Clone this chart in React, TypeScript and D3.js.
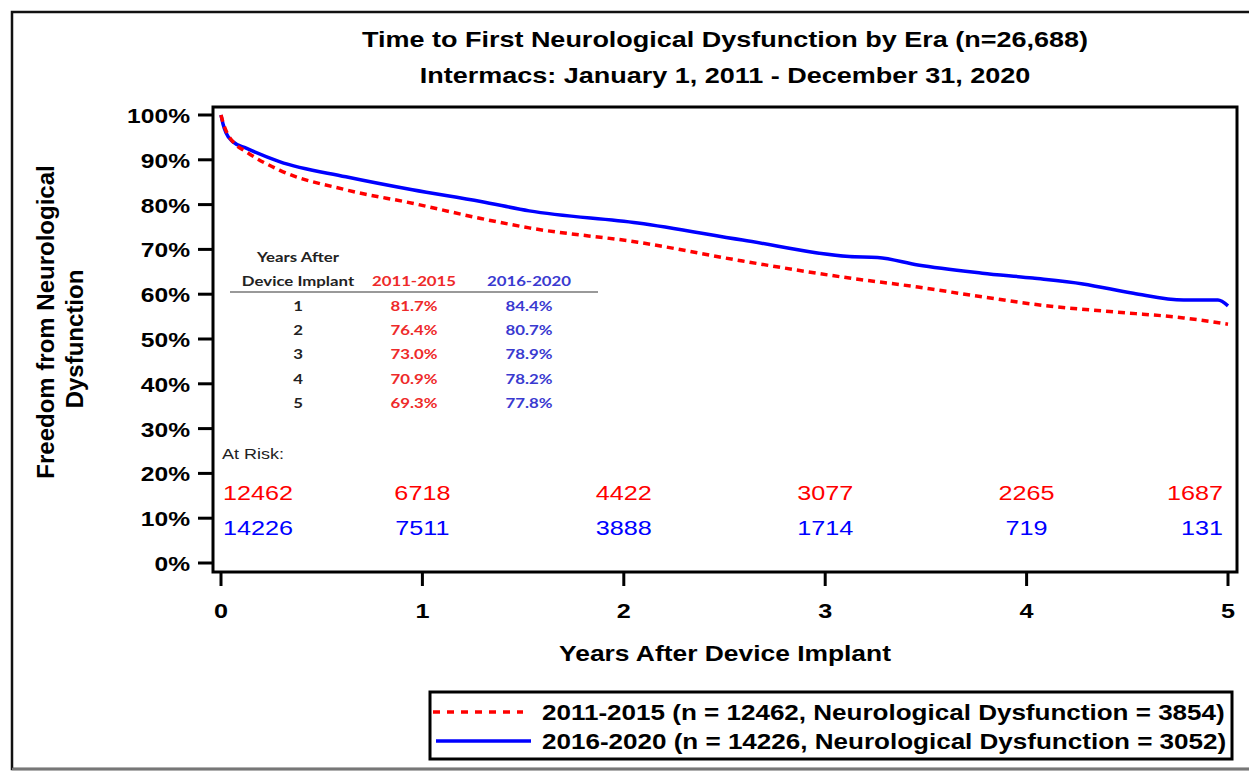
import React from "react";
import * as d3 from "d3";

// ---------- data ----------
const earlyTimes = [0, 0.01, 0.03, 0.06, 0.125, 0.29, 0.62, 0.95, 1.29, 1.53, 2.07, 2.59, 3.12, 3.46, 3.78, 4.12, 4.45, 4.78, 5.0];
const earlySurv = [100, 98.3, 96, 94, 91.8, 87.7, 83.3, 80.3, 76.9, 74.8, 71.6, 67.4, 63.6, 61.6, 59.4, 57.3, 56.0, 54.7, 53.3];

const lateTimes = [0, 0.01, 0.025, 0.06, 0.125, 0.29, 0.62, 0.95, 1.29, 1.53, 2.07, 2.59, 3.12, 3.26, 3.46, 3.78, 4.03, 4.28, 4.53, 4.78, 4.95, 5.0];
const lateSurv = [100, 98, 96, 94, 92.6, 89.6, 86.2, 83.3, 80.7, 78.6, 75.9, 72.1, 68.4, 68.2, 66.5, 64.7, 63.6, 62.3, 60.2, 58.7, 58.7, 57.4];

const yTicks = [0, 10, 20, 30, 40, 50, 60, 70, 80, 90, 100];
const xTicks = [0, 1, 2, 3, 4, 5];

const atRiskYears = [0, 1, 2, 3, 4, 5];
const atRiskEarly = [12462, 6718, 4422, 3077, 2265, 1687];
const atRiskLate = [14226, 7511, 3888, 1714, 719, 131];

const tableYears = ["1", "2", "3", "4", "5"];
const tableEarly = ["81.7%", "76.4%", "73.0%", "70.9%", "69.3%"];
const tableLate = ["84.4%", "80.7%", "78.9%", "78.2%", "77.8%"];

const titleLines = [
  "Time to First Neurological Dysfunction by Era (n=26,688)",
  "Intermacs: January 1, 2011 - December 31, 2020",
];
const legendLabels = [
  "2011-2015 (n = 12462, Neurological Dysfunction = 3854)",
  "2016-2020 (n = 14226, Neurological Dysfunction = 3052)",
];

// ---------- style ----------
const SX = 1.2;
const SANS = "'Liberation Sans', Arial, sans-serif";
const CAL = "Lato, 'Open Sans', sans-serif";
const RED = "#ff0000";
const BLUE = "#0000ff";
const TRED = "#ee2a2a";
const TBLUE = "#3a3ad0";

function T(props: any) {
  const { x, y, size, weight = "normal", anchor = "start", fill = "#000", family = SANS, children } = props;
  return (
    <text
      transform={`translate(${x},${y}) scale(${SX},1)`}
      fontSize={size}
      fontWeight={weight}
      textAnchor={anchor}
      fill={fill}
      fontFamily={family}
    >
      {children}
    </text>
  );
}

export default function App() {
  const W = 1249;
  const H = 776;
  const frame = { l: 213, t: 107, r: 1237, b: 572 };
  const x = d3.scaleLinear().domain([0, 5]).range([221, 1228]);
  const y = d3.scaleLinear().domain([0, 100]).range([563, 115]);

  const line = d3
    .line<[number, number]>()
    .x((d) => x(d[0]))
    .y((d) => y(d[1]))
    .curve(d3.curveMonotoneX);

  const early: [number, number][] = earlyTimes.map((t, i) => [t, earlySurv[i]]);
  const late: [number, number][] = lateTimes.map((t, i) => [t, lateSurv[i]]);

  const tblTop = 262;
  const rowStep = 24.2;
  const colYears = 298;
  const colEarly = 414;
  const colLate = 529;

  return (
    <svg
      width={W}
      height={H}
      style={{ position: "absolute", left: 0, top: 0, background: "#fff" }}
    >
      <rect x={0} y={0} width={W} height={H} fill="#fff" />
      {/* outer frame */}
      <rect x={12} y={12} width={1260} height={757} fill="none" stroke="#111" strokeWidth={2.5} />
      <line x1={12} x2={1249} y1={769} y2={769} stroke="#777" strokeWidth={2.5} />

      {/* title */}
      <T x={725} y={47} size={22.5} weight="bold" anchor="middle">{titleLines[0]}</T>
      <T x={725} y={83} size={22.5} weight="bold" anchor="middle">{titleLines[1]}</T>

      {/* y axis label */}
      <text transform="translate(54,322) rotate(-90)" fontSize={24} fontWeight="bold" textAnchor="middle" fontFamily={SANS}>Freedom from Neurological</text>
      <text transform="translate(83,339) rotate(-90)" fontSize={24} fontWeight="bold" textAnchor="middle" fontFamily={SANS}>Dysfunction</text>

      {/* y ticks */}
      {yTicks.map((v) => (
        <g key={"y" + v}>
          <line x1={198} x2={frame.l} y1={y(v)} y2={y(v)} stroke="#000" strokeWidth={3} />
          <T x={190} y={y(v) + 8} size={20.5} weight="bold" anchor="end">{v + "%"}</T>
        </g>
      ))}

      {/* x ticks */}
      {xTicks.map((v) => (
        <g key={"x" + v}>
          <line x1={x(v)} x2={x(v)} y1={frame.b} y2={frame.b + 14} stroke="#000" strokeWidth={3} />
          <T x={x(v)} y={618} size={21} weight="bold" anchor="middle">{String(v)}</T>
        </g>
      ))}
      <T x={725} y={661} size={22} weight="bold" anchor="middle">Years After Device Implant</T>

      {/* curves */}
      <path d={line(late) || ""} fill="none" stroke={BLUE} strokeWidth={3.5} />
      <path d={line(early) || ""} fill="none" stroke={RED} strokeWidth={3.5} strokeDasharray="7,5" />

      {/* plot frame */}
      <rect x={frame.l} y={frame.t} width={frame.r - frame.l} height={frame.b - frame.t} fill="none" stroke="#000" strokeWidth={3} />

      {/* inset table */}
      <T x={colYears} y={tblTop} size={14} weight="bold" anchor="middle" family={CAL} fill="#222">Years After</T>
      <T x={colYears} y={tblTop + 24} size={14} weight="bold" anchor="middle" family={CAL} fill="#222">Device Implant</T>
      <T x={colEarly} y={tblTop + 24} size={14} weight="bold" anchor="middle" family={CAL} fill={TRED}>2011-2015</T>
      <T x={colLate} y={tblTop + 24} size={14} weight="bold" anchor="middle" family={CAL} fill={TBLUE}>2016-2020</T>
      <line x1={230} x2={598} y1={292} y2={292} stroke="#999" strokeWidth={2} />
      {tableYears.map((yr, i) => {
        const yy = 311 + i * rowStep;
        return (
          <g key={"row" + i}>
            <T x={colYears} y={yy} size={14} weight="bold" anchor="middle" family={CAL} fill="#222">{yr}</T>
            <T x={colEarly} y={yy} size={14} weight="bold" anchor="middle" family={CAL} fill={TRED}>{tableEarly[i]}</T>
            <T x={colLate} y={yy} size={14} weight="bold" anchor="middle" family={CAL} fill={TBLUE}>{tableLate[i]}</T>
          </g>
        );
      })}

      {/* at risk */}
      <T x={222} y={459} size={15} fill="#222">At Risk:</T>
      {atRiskYears.map((t, i) => {
        const anchor = i === 0 ? "start" : i === atRiskYears.length - 1 ? "end" : "middle";
        const xx = i === 0 ? x(t) + 2 : i === atRiskYears.length - 1 ? x(t) - 5 : x(t);
        return (
          <g key={"ar" + i}>
            <T x={xx} y={500} size={21} anchor={anchor} fill={RED}>{String(atRiskEarly[i])}</T>
            <T x={xx} y={535} size={21} anchor={anchor} fill={BLUE}>{String(atRiskLate[i])}</T>
          </g>
        );
      })}

      {/* legend */}
      <rect x={430} y={692} width={802} height={67} fill="#fff" stroke="#000" strokeWidth={3} />
      <line x1={433} x2={523} y1={712} y2={712} stroke={RED} strokeWidth={3.5} strokeDasharray="7,7" />
      <line x1={436} x2={531} y1={741} y2={741} stroke={BLUE} strokeWidth={3.5} />
      <T x={542} y={720} size={21.7} weight="bold">{legendLabels[0]}</T>
      <T x={542} y={749} size={21.7} weight="bold">{legendLabels[1]}</T>
    </svg>
  );
}
